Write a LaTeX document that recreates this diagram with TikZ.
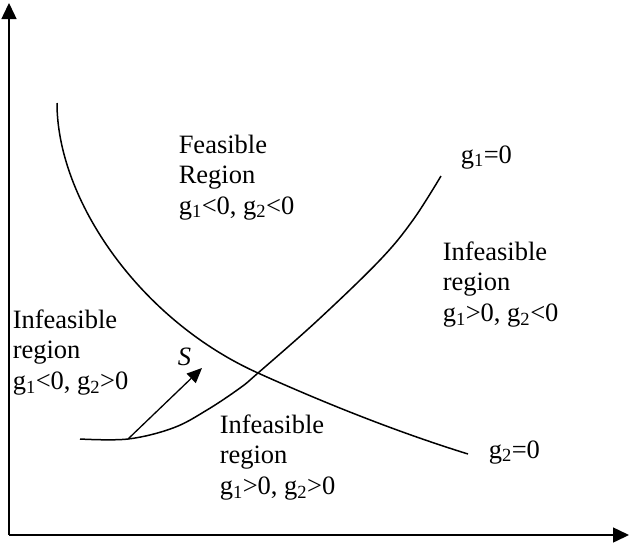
\documentclass[tikz,border=0pt]{standalone}
\usepackage{fontspec}
\setmainfont{Liberation Serif}
\usetikzlibrary{arrows.meta}

\begin{document}
\begin{tikzpicture}[x=1pt, y=-1pt, line width=1.5pt,
  axis/.style={-{Triangle[length=16pt,width=15pt]}},
  every node/.style={inner sep=0pt, font=\fontsize{26.5}{30.5}\selectfont},
  region/.style={align=left, anchor=north west}]
\useasboundingbox (0,0) rectangle (629,542);
% axes
\coordinate (o) at (9,535);
\coordinate (ytop) at (9,3);
\coordinate (xend) at (629,535);
\draw[axis] (o) -- (ytop);
\draw[axis] (o) -- (xend);
% constraint g2=0
\coordinate (g2a) at (57,103);
\coordinate (cross) at (258,373);
\coordinate (g2b) at (468,454);
\draw (g2a) .. controls (57,200) and (140,320) .. (cross)
  .. controls (340,410) and (410,436) .. (g2b);
% constraint g1=0
\coordinate (g1a) at (80,439);
\coordinate (s0) at (128,439);
\coordinate (g1b) at (441,176);
\draw plot[smooth, tension=0.6] coordinates {(g1a) (s0) (173,428) (207,410)
  (240,388) (cross) (318,320) (380,260) (413,220) (g1b)};
% search direction
\coordinate (s1) at (202,368);
\draw[line width=1.3pt, -{Triangle[length=15pt,width=13pt]}] (s0) -- (s1);
\node[anchor=base west] (S) at (177,365) {\textit{S}};
% labels
\node[anchor=base west] (l1) at (460,163) {g\textsubscript{1}=0};
\node[anchor=base west] (l2) at (488,458) {g\textsubscript{2}=0};
\node[region] (feas) at (178,134) {Feasible\\Region\\g\textsubscript{1}<0, g\textsubscript{2}<0};
\node[region] (inf1) at (442,241) {Infeasible\\region\\g\textsubscript{1}>0, g\textsubscript{2}<0};
\node[region] (inf2) at (12,309) {Infeasible\\region\\g\textsubscript{1}<0, g\textsubscript{2}>0};
\node[region] (inf3) at (219,414) {Infeasible\\region\\g\textsubscript{1}>0, g\textsubscript{2}>0};
\end{tikzpicture}
\end{document}
